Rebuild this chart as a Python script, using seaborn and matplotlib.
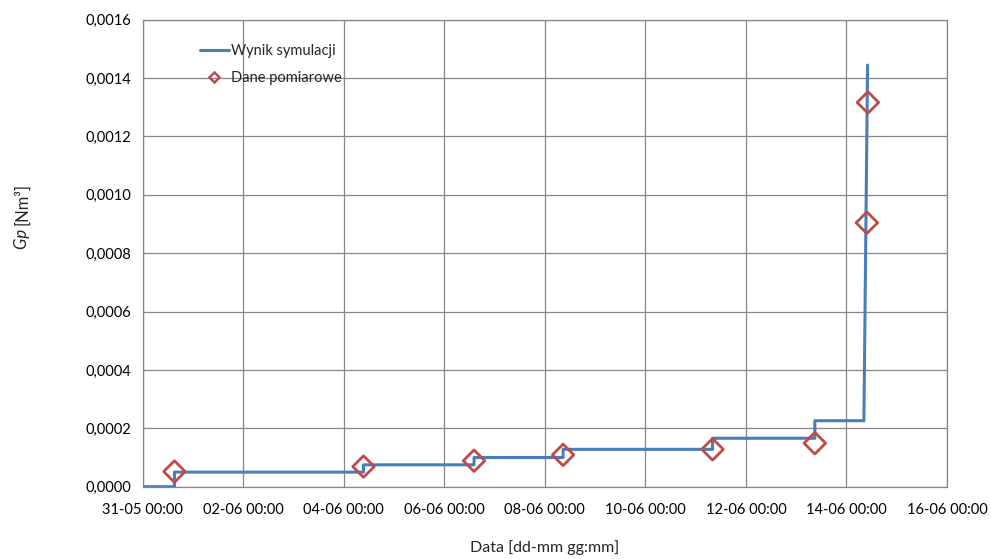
import matplotlib
matplotlib.use("Agg")
import matplotlib.pyplot as plt
from matplotlib.ticker import FuncFormatter, MultipleLocator
from matplotlib.lines import Line2D
import seaborn as sns
import pandas as pd

# Stepped simulation result: start time, times of each change, level after each change
sim_start = "2012-05-31 00:00"
sim_jump_times = ["2012-05-31 15:15", "2012-06-04 09:30", "2012-06-06 14:15",
                  "2012-06-08 08:45", "2012-06-11 08:05", "2012-06-13 08:55",
                  "2012-06-14 08:20"]
sim_levels = [0.0, 0.00005, 0.000075, 0.0001, 0.000128, 0.000166, 0.000226]
sim_end_time = "2012-06-14 10:05"
sim_end_value = 0.001444

# Measured data points
meas_times = ["2012-05-31 15:15", "2012-06-04 09:30", "2012-06-06 14:15",
              "2012-06-08 08:45", "2012-06-11 08:05", "2012-06-13 08:55",
              "2012-06-14 09:45", "2012-06-14 10:15"]
meas_values = [0.000052, 0.000069, 0.000089, 0.000109, 0.000128, 0.000149,
               0.000904, 0.001316]

x_start = "2012-05-31 00:00"
x_end = "2012-06-16 00:00"

BLUE = "#4A7EBB"
RED = "#BE4B48"
GRID = "#878787"

# build the stepped path from the change times and levels
jt = pd.to_datetime(sim_jump_times)
px = [pd.Timestamp(sim_start)]
py = [sim_levels[0]]
for k in range(1, len(sim_levels)):
    px += [jt[k - 1], jt[k - 1]]
    py += [sim_levels[k - 1], sim_levels[k]]
px += [jt[-1], pd.Timestamp(sim_end_time)]
py += [sim_levels[-1], sim_end_value]
sim_df = pd.DataFrame({"t": px, "v": py})
meas_df = pd.DataFrame({"t": pd.to_datetime(meas_times), "v": meas_values})

sns.set_theme(style="white")
plt.rcParams["font.family"] = ["Lato", "DejaVu Sans"]

fig = plt.figure(figsize=(9.91, 5.59), dpi=100)
ax = fig.add_axes([0.1438, 0.1293, 0.8118, 0.8358])

sns.lineplot(data=sim_df, x="t", y="v", sort=False, estimator=None,
             color=BLUE, linewidth=2.2, ax=ax, zorder=3)
sns.scatterplot(data=meas_df, x="t", y="v", marker="D", s=120,
                facecolor="none", edgecolor=RED, linewidth=2.0, ax=ax, zorder=4)

ax.set_xlim(pd.Timestamp(x_start), pd.Timestamp(x_end))
ax.set_ylim(0, 0.0016)
ticks = pd.date_range(x_start, x_end, freq="2D")
ax.set_xticks(ticks)
ax.set_xticklabels([t.strftime("%d-%m %H:%M") for t in ticks])
ax.yaxis.set_major_locator(MultipleLocator(0.0002))
ax.yaxis.set_major_formatter(FuncFormatter(lambda v, p: f"{v:.4f}".replace(".", ",")))

ax.grid(True, color=GRID, linewidth=0.9)
for s in ax.spines.values():
    s.set_color(GRID)
    s.set_linewidth(0.9)
ax.tick_params(axis="both", length=0, labelsize=10.5, colors="black")
ax.tick_params(axis="x", pad=12)
ax.tick_params(axis="y", pad=8)

ax.set_xlabel("Data [dd-mm gg:mm]", fontsize=11.5, labelpad=16)
ax.set_ylabel("")
fig.text(0.022, 0.598, "[Nm³]", rotation=90, fontsize=12, ha="center", va="bottom")
fig.text(0.022, 0.598, "Gp ", rotation=90, fontsize=12, ha="center", va="top",
         fontstyle="italic")

handles = [Line2D([], [], color=BLUE, linewidth=2.2),
           Line2D([], [], color=RED, marker="D", markersize=5, linestyle="none",
                  markerfacecolor="none", markeredgewidth=1.8)]
ax.legend(handles, ["Wynik symulacji", "Dane pomiarowe"], loc="upper left",
          bbox_to_anchor=(0.062, 0.963), frameon=False, fontsize=10.5,
          handlelength=2.0, handletextpad=0.15, labelspacing=0.9, borderpad=0)

fig.savefig("out.png", dpi=100)
